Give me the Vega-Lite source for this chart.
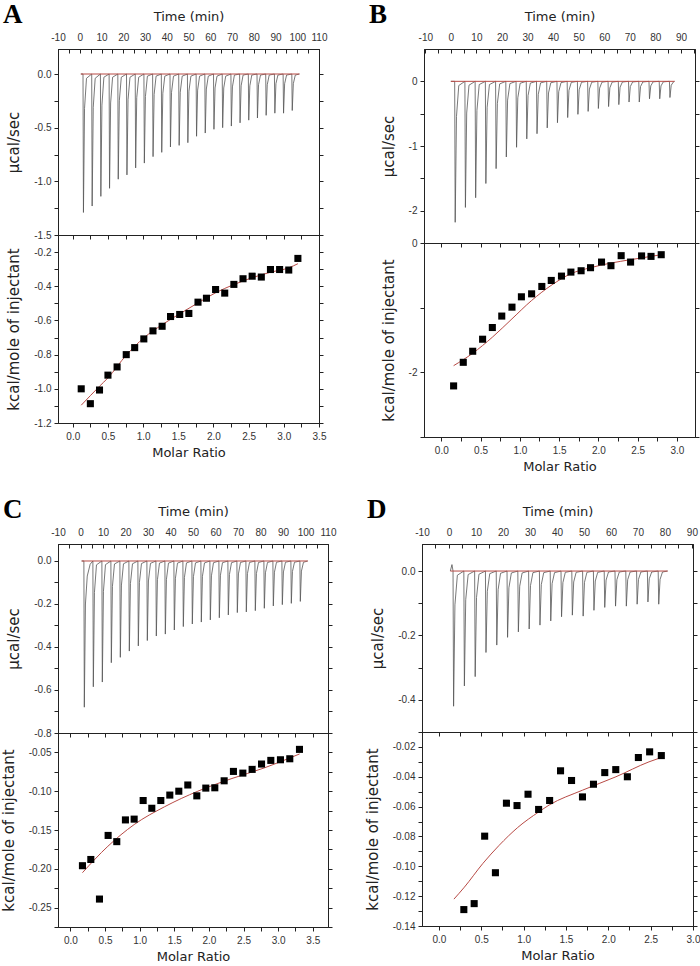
{
  "$schema": "https://vega.github.io/schema/vega-lite/v6.json",
  "background": "white",
  "padding": {"left": 0, "top": 0, "right": 0, "bottom": 0},
  "config": {
    "view": {"stroke": "#222", "strokeWidth": 1},
    "axis": {"grid": false, "domainColor": "#222", "tickColor": "#222", "labelFont": "Liberation Sans", "labelFontSize": 10, "labelColor": "#333", "titleFont": "DejaVu Sans", "titleFontWeight": "normal", "titleColor": "#222", "labelOverlap": false, "labelFlush": false, "tickSize": 4, "labelPadding": 3},
    "locale": {"number": {"decimal": ".", "thousands": ",", "grouping": [3], "currency": ["$", ""], "minus": "-"}}
  },
  "datasets": {
    "thA": [{"t":0.5,"p":0},
      {"t":1.5,"p":0},{"t":1.7,"p":-1.29},{"t":2.2,"p":-0.32},{"t":3.1,"p":-0.04},
      {"t":5.5,"p":0},{"t":5.7,"p":-1.23},{"t":6.2,"p":-0.31},{"t":7.1,"p":-0.04},
      {"t":9.5,"p":0},{"t":9.7,"p":-1.14},{"t":10.2,"p":-0.29},{"t":11.1,"p":-0.03},
      {"t":13.5,"p":0},{"t":13.7,"p":-1.065},{"t":14.2,"p":-0.27},{"t":15.1,"p":-0.03},
      {"t":17.5,"p":0},{"t":17.7,"p":-0.98},{"t":18.2,"p":-0.25},{"t":19.1,"p":-0.03},
      {"t":21.5,"p":0},{"t":21.7,"p":-0.94},{"t":22.2,"p":-0.24},{"t":23.1,"p":-0.03},
      {"t":25.5,"p":0},{"t":25.7,"p":-0.875},{"t":26.2,"p":-0.22},{"t":27.1,"p":-0.03},
      {"t":29.5,"p":0},{"t":29.7,"p":-0.83},{"t":30.2,"p":-0.21},{"t":31.1,"p":-0.02},
      {"t":33.5,"p":0},{"t":33.7,"p":-0.77},{"t":34.2,"p":-0.19},{"t":35.1,"p":-0.02},
      {"t":37.5,"p":0},{"t":37.7,"p":-0.73},{"t":38.2,"p":-0.18},{"t":39.1,"p":-0.02},
      {"t":41.5,"p":0},{"t":41.7,"p":-0.68},{"t":42.2,"p":-0.17},{"t":43.1,"p":-0.02},
      {"t":45.5,"p":0},{"t":45.7,"p":-0.665},{"t":46.2,"p":-0.17},{"t":47.1,"p":-0.02},
      {"t":49.5,"p":0},{"t":49.7,"p":-0.64},{"t":50.2,"p":-0.16},{"t":51.1,"p":-0.02},
      {"t":53.5,"p":0},{"t":53.7,"p":-0.58},{"t":54.2,"p":-0.15},{"t":55.1,"p":-0.02},
      {"t":57.5,"p":0},{"t":57.7,"p":-0.55},{"t":58.2,"p":-0.14},{"t":59.1,"p":-0.02},
      {"t":61.5,"p":0},{"t":61.7,"p":-0.515},{"t":62.2,"p":-0.13},{"t":63.1,"p":-0.02},
      {"t":65.5,"p":0},{"t":65.7,"p":-0.5},{"t":66.2,"p":-0.13},{"t":67.1,"p":-0.02},
      {"t":69.5,"p":0},{"t":69.7,"p":-0.485},{"t":70.2,"p":-0.12},{"t":71.1,"p":-0.01},
      {"t":73.5,"p":0},{"t":73.7,"p":-0.455},{"t":74.2,"p":-0.11},{"t":75.1,"p":-0.01},
      {"t":77.5,"p":0},{"t":77.7,"p":-0.43},{"t":78.2,"p":-0.11},{"t":79.1,"p":-0.01},
      {"t":81.5,"p":0},{"t":81.7,"p":-0.41},{"t":82.2,"p":-0.1},{"t":83.1,"p":-0.01},
      {"t":85.5,"p":0},{"t":85.7,"p":-0.385},{"t":86.2,"p":-0.1},{"t":87.1,"p":-0.01},
      {"t":89.5,"p":0},{"t":89.7,"p":-0.365},{"t":90.2,"p":-0.09},{"t":91.1,"p":-0.01},
      {"t":93.5,"p":0},{"t":93.7,"p":-0.365},{"t":94.2,"p":-0.09},{"t":95.1,"p":-0.01},
      {"t":97.5,"p":0},{"t":97.7,"p":-0.34},{"t":98.2,"p":-0.09},{"t":99.1,"p":-0.01},
      {"t":101,"p":0}],
    "thB": [{"t":0,"p":0},
      {"t":1.5,"p":0},{"t":1.7,"p":-2.18},{"t":2.2,"p":-0.545},{"t":3.1,"p":-0.065},
      {"t":5.5,"p":0},{"t":5.7,"p":-1.95},{"t":6.2,"p":-0.49},{"t":7.1,"p":-0.06},
      {"t":9.5,"p":0},{"t":9.7,"p":-1.8},{"t":10.2,"p":-0.45},{"t":11.1,"p":-0.05},
      {"t":13.5,"p":0},{"t":13.7,"p":-1.58},{"t":14.2,"p":-0.4},{"t":15.1,"p":-0.05},
      {"t":17.5,"p":0},{"t":17.7,"p":-1.35},{"t":18.2,"p":-0.34},{"t":19.1,"p":-0.04},
      {"t":21.5,"p":0},{"t":21.7,"p":-1.17},{"t":22.2,"p":-0.29},{"t":23.1,"p":-0.035},
      {"t":25.5,"p":0},{"t":25.7,"p":-1.02},{"t":26.2,"p":-0.255},{"t":27.1,"p":-0.03},
      {"t":29.5,"p":0},{"t":29.7,"p":-0.89},{"t":30.2,"p":-0.22},{"t":31.1,"p":-0.027},
      {"t":33.5,"p":0},{"t":33.7,"p":-0.81},{"t":34.2,"p":-0.2},{"t":35.1,"p":-0.024},
      {"t":37.5,"p":0},{"t":37.7,"p":-0.72},{"t":38.2,"p":-0.18},{"t":39.1,"p":-0.022},
      {"t":41.5,"p":0},{"t":41.7,"p":-0.64},{"t":42.2,"p":-0.16},{"t":43.1,"p":-0.02},
      {"t":45.5,"p":0},{"t":45.7,"p":-0.56},{"t":46.2,"p":-0.14},{"t":47.1,"p":-0.017},
      {"t":49.5,"p":0},{"t":49.7,"p":-0.51},{"t":50.2,"p":-0.13},{"t":51.1,"p":-0.015},
      {"t":53.5,"p":0},{"t":53.7,"p":-0.465},{"t":54.2,"p":-0.12},{"t":55.1,"p":-0.014},
      {"t":57.5,"p":0},{"t":57.7,"p":-0.42},{"t":58.2,"p":-0.105},{"t":59.1,"p":-0.013},
      {"t":61.5,"p":0},{"t":61.7,"p":-0.39},{"t":62.2,"p":-0.1},{"t":63.1,"p":-0.012},
      {"t":65.5,"p":0},{"t":65.7,"p":-0.36},{"t":66.2,"p":-0.09},{"t":67.1,"p":-0.011},
      {"t":69.5,"p":0},{"t":69.7,"p":-0.32},{"t":70.2,"p":-0.08},{"t":71.1,"p":-0.01},
      {"t":73.5,"p":0},{"t":73.7,"p":-0.32},{"t":74.2,"p":-0.08},{"t":75.1,"p":-0.01},
      {"t":77.5,"p":0},{"t":77.7,"p":-0.27},{"t":78.2,"p":-0.07},{"t":79.1,"p":-0.008},
      {"t":81.5,"p":0},{"t":81.7,"p":-0.27},{"t":82.2,"p":-0.07},{"t":83.1,"p":-0.008},
      {"t":85.5,"p":0},{"t":85.7,"p":-0.25},{"t":86.2,"p":-0.06},{"t":87.1,"p":-0.008},
      {"t":87.5,"p":0}],
    "thC": [{"t":0.5,"p":0},
      {"t":1.5,"p":0},{"t":1.7,"p":-0.68},{"t":2.2,"p":-0.2},{"t":3.0,"p":-0.07},{"t":4.3,"p":-0.015},
      {"t":5.5,"p":0},{"t":5.7,"p":-0.585},{"t":6.2,"p":-0.146},{"t":7.1,"p":-0.018},
      {"t":9.5,"p":0},{"t":9.7,"p":-0.563},{"t":10.2,"p":-0.141},{"t":11.1,"p":-0.017},
      {"t":13.5,"p":0},{"t":13.7,"p":-0.473},{"t":14.2,"p":-0.118},{"t":15.1,"p":-0.014},
      {"t":17.5,"p":0},{"t":17.7,"p":-0.448},{"t":18.2,"p":-0.112},{"t":19.1,"p":-0.013},
      {"t":21.5,"p":0},{"t":21.7,"p":-0.419},{"t":22.2,"p":-0.105},{"t":23.1,"p":-0.013},
      {"t":25.5,"p":0},{"t":25.7,"p":-0.395},{"t":26.2,"p":-0.099},{"t":27.1,"p":-0.012},
      {"t":29.5,"p":0},{"t":29.7,"p":-0.37},{"t":30.2,"p":-0.093},{"t":31.1,"p":-0.011},
      {"t":33.5,"p":0},{"t":33.7,"p":-0.349},{"t":34.2,"p":-0.087},{"t":35.1,"p":-0.01},
      {"t":37.5,"p":0},{"t":37.7,"p":-0.34},{"t":38.2,"p":-0.085},{"t":39.1,"p":-0.01},
      {"t":41.5,"p":0},{"t":41.7,"p":-0.321},{"t":42.2,"p":-0.08},{"t":43.1,"p":-0.01},
      {"t":45.5,"p":0},{"t":45.7,"p":-0.305},{"t":46.2,"p":-0.076},{"t":47.1,"p":-0.009},
      {"t":49.5,"p":0},{"t":49.7,"p":-0.293},{"t":50.2,"p":-0.073},{"t":51.1,"p":-0.009},
      {"t":53.5,"p":0},{"t":53.7,"p":-0.284},{"t":54.2,"p":-0.071},{"t":55.1,"p":-0.009},
      {"t":57.5,"p":0},{"t":57.7,"p":-0.274},{"t":58.2,"p":-0.069},{"t":59.1,"p":-0.008},
      {"t":61.5,"p":0},{"t":61.7,"p":-0.264},{"t":62.2,"p":-0.066},{"t":63.1,"p":-0.008},
      {"t":65.5,"p":0},{"t":65.7,"p":-0.251},{"t":66.2,"p":-0.063},{"t":67.1,"p":-0.008},
      {"t":69.5,"p":0},{"t":69.7,"p":-0.24},{"t":70.2,"p":-0.06},{"t":71.1,"p":-0.007},
      {"t":73.5,"p":0},{"t":73.7,"p":-0.237},{"t":74.2,"p":-0.059},{"t":75.1,"p":-0.007},
      {"t":77.5,"p":0},{"t":77.7,"p":-0.231},{"t":78.2,"p":-0.058},{"t":79.1,"p":-0.007},
      {"t":81.5,"p":0},{"t":81.7,"p":-0.22},{"t":82.2,"p":-0.055},{"t":83.1,"p":-0.007},
      {"t":85.5,"p":0},{"t":85.7,"p":-0.209},{"t":86.2,"p":-0.052},{"t":87.1,"p":-0.006},
      {"t":89.5,"p":0},{"t":89.7,"p":-0.203},{"t":90.2,"p":-0.051},{"t":91.1,"p":-0.006},
      {"t":93.5,"p":0},{"t":93.7,"p":-0.197},{"t":94.2,"p":-0.049},{"t":95.1,"p":-0.006},
      {"t":97.5,"p":0},{"t":97.7,"p":-0.188},{"t":98.2,"p":-0.047},{"t":99.1,"p":-0.006},
      {"t":101,"p":0}],
    "thD": [{"t":0.5,"p":0},{"t":1.1,"p":0.02},
      {"t":1.5,"p":0},{"t":1.7,"p":-0.42},{"t":2.2,"p":-0.105},{"t":3.1,"p":-0.013},
      {"t":5.5,"p":0},{"t":5.7,"p":-0.357},{"t":6.2,"p":-0.089},{"t":7.1,"p":-0.011},
      {"t":9.5,"p":0},{"t":9.7,"p":-0.328},{"t":10.2,"p":-0.082},{"t":11.1,"p":-0.01},
      {"t":13.5,"p":0},{"t":13.7,"p":-0.253},{"t":14.2,"p":-0.063},{"t":15.1,"p":-0.008},
      {"t":17.5,"p":0},{"t":17.7,"p":-0.23},{"t":18.2,"p":-0.058},{"t":19.1,"p":-0.007},
      {"t":21.5,"p":0},{"t":21.7,"p":-0.206},{"t":22.2,"p":-0.052},{"t":23.1,"p":-0.006},
      {"t":25.5,"p":0},{"t":25.7,"p":-0.189},{"t":26.2,"p":-0.047},{"t":27.1,"p":-0.006},
      {"t":29.5,"p":0},{"t":29.7,"p":-0.18},{"t":30.2,"p":-0.045},{"t":31.1,"p":-0.005},
      {"t":33.5,"p":0},{"t":33.7,"p":-0.168},{"t":34.2,"p":-0.042},{"t":35.1,"p":-0.005},
      {"t":37.5,"p":0},{"t":37.7,"p":-0.155},{"t":38.2,"p":-0.039},{"t":39.1,"p":-0.005},
      {"t":41.5,"p":0},{"t":41.7,"p":-0.142},{"t":42.2,"p":-0.036},{"t":43.1,"p":-0.004},
      {"t":45.5,"p":0},{"t":45.7,"p":-0.137},{"t":46.2,"p":-0.034},{"t":47.1,"p":-0.004},
      {"t":49.5,"p":0},{"t":49.7,"p":-0.14},{"t":50.2,"p":-0.035},{"t":51.1,"p":-0.004},
      {"t":53.5,"p":0},{"t":53.7,"p":-0.122},{"t":54.2,"p":-0.031},{"t":55.1,"p":-0.004},
      {"t":57.5,"p":0},{"t":57.7,"p":-0.113},{"t":58.2,"p":-0.028},{"t":59.1,"p":-0.003},
      {"t":61.5,"p":0},{"t":61.7,"p":-0.109},{"t":62.2,"p":-0.027},{"t":63.1,"p":-0.003},
      {"t":65.5,"p":0},{"t":65.7,"p":-0.109},{"t":66.2,"p":-0.027},{"t":67.1,"p":-0.003},
      {"t":69.5,"p":0},{"t":69.7,"p":-0.103},{"t":70.2,"p":-0.026},{"t":71.1,"p":-0.003},
      {"t":73.5,"p":0},{"t":73.7,"p":-0.096},{"t":74.2,"p":-0.024},{"t":75.1,"p":-0.003},
      {"t":77.5,"p":0},{"t":77.7,"p":-0.103},{"t":78.2,"p":-0.026},{"t":79.1,"p":-0.003},
      {"t":81,"p":0}],
    "baseA": [{"t":0.5,"p":0},{"t":101,"p":0}],
    "baseB": [{"t":0,"p":0},{"t":87.5,"p":0}],
    "baseC": [{"t":0.5,"p":0},{"t":101,"p":0}],
    "baseD": [{"t":0.5,"p":0},{"t":81,"p":0}],
    "ptA": [{"x":0.12,"y":-1.0},{"x":0.25,"y":-1.087},{"x":0.38,"y":-1.007},{"x":0.5,"y":-0.92},{"x":0.63,"y":-0.872},{"x":0.76,"y":-0.8},{"x":0.88,"y":-0.759},{"x":1.01,"y":-0.708},{"x":1.14,"y":-0.661},{"x":1.27,"y":-0.634},{"x":1.39,"y":-0.577},{"x":1.52,"y":-0.565},{"x":1.65,"y":-0.559},{"x":1.78,"y":-0.493},{"x":1.9,"y":-0.47},{"x":2.03,"y":-0.419},{"x":2.16,"y":-0.44},{"x":2.29,"y":-0.389},{"x":2.42,"y":-0.356},{"x":2.55,"y":-0.341},{"x":2.68,"y":-0.346},{"x":2.81,"y":-0.302},{"x":2.94,"y":-0.302},{"x":3.07,"y":-0.305},{"x":3.2,"y":-0.237}],
    "ptB": [{"x":0.157,"y":-2.21},{"x":0.28,"y":-1.845},{"x":0.4,"y":-1.674},{"x":0.526,"y":-1.488},{"x":0.65,"y":-1.307},{"x":0.77,"y":-1.13},{"x":0.9,"y":-0.992},{"x":1.02,"y":-0.832},{"x":1.15,"y":-0.786},{"x":1.28,"y":-0.672},{"x":1.4,"y":-0.579},{"x":1.53,"y":-0.512},{"x":1.65,"y":-0.45},{"x":1.78,"y":-0.429},{"x":1.9,"y":-0.382},{"x":2.04,"y":-0.295},{"x":2.16,"y":-0.351},{"x":2.29,"y":-0.196},{"x":2.41,"y":-0.295},{"x":2.55,"y":-0.2},{"x":2.67,"y":-0.207},{"x":2.8,"y":-0.181}],
    "ptC": [{"x":0.173,"y":-0.196},{"x":0.294,"y":-0.188},{"x":0.419,"y":-0.239},{"x":0.544,"y":-0.157},{"x":0.669,"y":-0.165},{"x":0.794,"y":-0.137},{"x":0.92,"y":-0.136},{"x":1.05,"y":-0.112},{"x":1.175,"y":-0.122},{"x":1.305,"y":-0.112},{"x":1.435,"y":-0.105},{"x":1.565,"y":-0.1},{"x":1.695,"y":-0.092},{"x":1.825,"y":-0.106},{"x":1.955,"y":-0.096},{"x":2.085,"y":-0.0956},{"x":2.22,"y":-0.0866},{"x":2.354,"y":-0.0745},{"x":2.49,"y":-0.0767},{"x":2.624,"y":-0.0719},{"x":2.76,"y":-0.065},{"x":2.894,"y":-0.0603},{"x":3.033,"y":-0.0595},{"x":3.168,"y":-0.0582},{"x":3.308,"y":-0.0461}],
    "ptD": [{"x":0.294,"y":-0.129},{"x":0.416,"y":-0.125},{"x":0.54,"y":-0.0798},{"x":0.667,"y":-0.1043},{"x":0.797,"y":-0.0577},{"x":0.922,"y":-0.0593},{"x":1.052,"y":-0.0517},{"x":1.177,"y":-0.0619},{"x":1.307,"y":-0.0559},{"x":1.436,"y":-0.036},{"x":1.566,"y":-0.0425},{"x":1.695,"y":-0.0535},{"x":1.825,"y":-0.045},{"x":1.958,"y":-0.0372},{"x":2.088,"y":-0.0352},{"x":2.225,"y":-0.04},{"x":2.355,"y":-0.0271},{"x":2.488,"y":-0.0233},{"x":2.626,"y":-0.0258}],
    "fitA": [{"x":0.12,"y":-1.096},{"x":0.25,"y":-1.04},{"x":0.38,"y":-0.985},{"x":0.5,"y":-0.936},{"x":0.76,"y":-0.803},{"x":1.01,"y":-0.702},{"x":1.27,"y":-0.625},{"x":1.52,"y":-0.561},{"x":1.78,"y":-0.497},{"x":2.03,"y":-0.438},{"x":2.29,"y":-0.39},{"x":2.55,"y":-0.35},{"x":2.81,"y":-0.318},{"x":3.07,"y":-0.292},{"x":3.2,"y":-0.268}],
    "fitB": [{"x":0.157,"y":-1.897},{"x":0.4,"y":-1.705},{"x":0.65,"y":-1.457},{"x":0.9,"y":-1.173},{"x":1.15,"y":-0.889},{"x":1.41,"y":-0.646},{"x":1.65,"y":-0.475},{"x":1.9,"y":-0.382},{"x":2.16,"y":-0.31},{"x":2.41,"y":-0.258},{"x":2.8,"y":-0.181}],
    "fitC": [{"x":0.173,"y":-0.205},{"x":0.54,"y":-0.171},{"x":0.92,"y":-0.143},{"x":1.36,"y":-0.12},{"x":1.84,"y":-0.1},{"x":2.32,"y":-0.084},{"x":2.8,"y":-0.07},{"x":3.31,"y":-0.052}],
    "fitD": [{"x":0.177,"y":-0.122},{"x":0.3,"y":-0.114},{"x":0.52,"y":-0.098},{"x":0.71,"y":-0.086},{"x":0.93,"y":-0.074},{"x":1.18,"y":-0.0635},{"x":1.3,"y":-0.059},{"x":1.695,"y":-0.049},{"x":2.09,"y":-0.04},{"x":2.48,"y":-0.03},{"x":2.63,"y":-0.027}]
  },
  "spacing": 21,
  "vconcat": [
    {"hconcat": [
      {"title": {"text": "A", "anchor": "start", "frame": "group", "dx": -55, "offset": -19, "font": "Liberation Serif", "fontSize": 27, "fontWeight": "bold", "color": "#000"},
       "spacing": 0, "bounds": "flush",
       "vconcat": [
        {"width": 261, "height": 186,
         "resolve": {"axis": {"x": "independent", "y": "independent"}},
         "layer": [
          {"data": {"name": "thA"}, "mark": {"type": "line", "color": "#555", "strokeWidth": 0.8},
           "encoding": {
            "x": {"field": "t", "type": "quantitative", "scale": {"domain": [-10, 110], "nice": false, "zero": false},
                  "axis": {"orient": "top", "title": "Time (min)", "titleFontSize": 13, "titlePadding": 9, "values": [-10,-5,0,5,10,15,20,25,30,35,40,45,50,55,60,65,70,75,80,85,90,95,100,105,110], "format": "d", "labelExpr": "datum.value % 10 == 0 ? datum.label : ''", "tickSize": -4, "labelPadding": 11}},
            "y": {"field": "p", "type": "quantitative", "scale": {"domain": [-1.5, 0.233], "nice": false, "zero": false},
                  "axis": {"orient": "left", "title": "µcal/sec", "titleFontSize": 15, "titlePadding": 12, "values": [0,-0.25,-0.5,-0.75,-1,-1.25,-1.5], "format": ".1f", "labelExpr": "abs(datum.value*2-round(datum.value*2)) < 0.001 ? datum.label : ''"}}}},
          {"data": {"name": "baseA"}, "mark": {"type": "line", "color": "#b84a45", "strokeWidth": 1},
           "encoding": {
            "x": {"field": "t", "type": "quantitative", "scale": {"domain": [-10, 110], "nice": false, "zero": false}, "axis": null},
            "y": {"field": "p", "type": "quantitative", "scale": {"domain": [-1.5, 0.233], "nice": false, "zero": false},
                  "axis": {"orient": "right", "title": null, "labels": false, "values": [0,-0.25,-0.5,-0.75,-1,-1.25,-1.5]}}}}
         ]},
        {"width": 261, "height": 188,
         "resolve": {"axis": {"x": "independent", "y": "independent"}},
         "layer": [
          {"data": {"name": "fitA"}, "mark": {"type": "line", "color": "#b84a45", "strokeWidth": 1, "interpolate": "monotone"},
           "encoding": {
            "x": {"field": "x", "type": "quantitative", "scale": {"domain": [-0.21, 3.5], "nice": false, "zero": false},
                  "axis": {"orient": "top", "title": null, "labels": false, "tickSize": -4, "values": [0,0.25,0.5,0.75,1,1.25,1.5,1.75,2,2.25,2.5,2.75,3,3.25,3.5]}},
            "y": {"field": "y", "type": "quantitative", "scale": {"domain": [-1.2, -0.1], "nice": false, "zero": false},
                  "axis": {"orient": "right", "title": null, "labels": false, "values": [-0.2,-0.3,-0.4,-0.5,-0.6,-0.7,-0.8,-0.9,-1,-1.1,-1.2]}}}},
          {"data": {"name": "ptA"}, "mark": {"type": "square", "color": "#000", "size": 50, "opacity": 1},
           "encoding": {
            "x": {"field": "x", "type": "quantitative", "scale": {"domain": [-0.21, 3.5], "nice": false, "zero": false},
                  "axis": {"orient": "bottom", "title": "Molar Ratio", "titleFontSize": 13, "titlePadding": 5, "labelPadding": 4, "values": [0,0.25,0.5,0.75,1,1.25,1.5,1.75,2,2.25,2.5,2.75,3,3.25,3.5], "format": ".1f", "labelExpr": "abs(datum.value*2-round(datum.value*2)) < 0.001 ? datum.label : ''"}},
            "y": {"field": "y", "type": "quantitative", "scale": {"domain": [-1.2, -0.1], "nice": false, "zero": false},
                  "axis": {"orient": "left", "title": "kcal/mole of injectant", "titleFontSize": 15, "titlePadding": 12, "values": [-0.2,-0.3,-0.4,-0.5,-0.6,-0.7,-0.8,-0.9,-1,-1.1,-1.2], "format": ".1f", "labelExpr": "abs(datum.value*5-round(datum.value*5)) < 0.001 ? datum.label : ''"}}}}
         ]}
       ]},
      {"title": {"text": "B", "anchor": "start", "frame": "group", "dx": -55, "offset": -19, "font": "Liberation Serif", "fontSize": 27, "fontWeight": "bold", "color": "#000"},
       "spacing": 0, "bounds": "flush",
       "vconcat": [
        {"width": 271, "height": 194,
         "resolve": {"axis": {"x": "independent", "y": "independent"}},
         "layer": [
          {"data": {"name": "thB"}, "mark": {"type": "line", "color": "#555", "strokeWidth": 0.8},
           "encoding": {
            "x": {"field": "t", "type": "quantitative", "scale": {"domain": [-10.5, 95.5], "nice": false, "zero": false},
                  "axis": {"orient": "top", "title": "Time (min)", "titleFontSize": 13, "titlePadding": 9, "values": [-10,-5,0,5,10,15,20,25,30,35,40,45,50,55,60,65,70,75,80,85,90,95], "format": "d", "labelExpr": "datum.value % 10 == 0 ? datum.label : ''", "tickSize": -4, "labelPadding": 11}},
            "y": {"field": "p", "type": "quantitative", "scale": {"domain": [-2.5, 0.5], "nice": false, "zero": false},
                  "axis": {"orient": "left", "title": "µcal/sec", "titleFontSize": 15, "titlePadding": 12, "values": [0,-0.5,-1,-1.5,-2], "labelExpr": "datum.value % 1 == 0 ? format(datum.value, 'd') : ''"}}}},
          {"data": {"name": "baseB"}, "mark": {"type": "line", "color": "#b84a45", "strokeWidth": 1},
           "encoding": {
            "x": {"field": "t", "type": "quantitative", "scale": {"domain": [-10.5, 95.5], "nice": false, "zero": false}, "axis": null},
            "y": {"field": "p", "type": "quantitative", "scale": {"domain": [-2.5, 0.5], "nice": false, "zero": false},
                  "axis": {"orient": "right", "title": null, "labels": false, "values": [0,-0.5,-1,-1.5,-2]}}}}
         ]},
        {"width": 271, "height": 194,
         "resolve": {"axis": {"x": "independent", "y": "independent"}},
         "layer": [
          {"data": {"name": "fitB"}, "mark": {"type": "line", "color": "#b84a45", "strokeWidth": 1, "interpolate": "monotone"},
           "encoding": {
            "x": {"field": "x", "type": "quantitative", "scale": {"domain": [-0.22, 3.23], "nice": false, "zero": false},
                  "axis": {"orient": "top", "title": null, "labels": false, "tickSize": -4, "values": [0,0.25,0.5,0.75,1,1.25,1.5,1.75,2,2.25,2.5,2.75,3]}},
            "y": {"field": "y", "type": "quantitative", "scale": {"domain": [-3, 0], "nice": false, "zero": false},
                  "axis": {"orient": "right", "title": null, "labels": false, "values": [0,-1,-2,-3]}}}},
          {"data": {"name": "ptB"}, "mark": {"type": "square", "color": "#000", "size": 50, "opacity": 1},
           "encoding": {
            "x": {"field": "x", "type": "quantitative", "scale": {"domain": [-0.22, 3.23], "nice": false, "zero": false},
                  "axis": {"orient": "bottom", "title": "Molar Ratio", "titleFontSize": 13, "titlePadding": 5, "labelPadding": 4, "values": [0,0.25,0.5,0.75,1,1.25,1.5,1.75,2,2.25,2.5,2.75,3], "format": ".1f", "labelExpr": "abs(datum.value*2-round(datum.value*2)) < 0.001 ? datum.label : ''"}},
            "y": {"field": "y", "type": "quantitative", "scale": {"domain": [-3, 0], "nice": false, "zero": false},
                  "axis": {"orient": "left", "title": "kcal/mole of injectant", "titleFontSize": 15, "titlePadding": 12, "values": [0,-1,-2,-3], "labelExpr": "datum.value % 2 == 0 ? format(datum.value, 'd') : ''"}}}}
         ]}
       ]}
    ], "spacing": 41},
    {"hconcat": [
      {"title": {"text": "C", "anchor": "start", "frame": "group", "dx": -55, "offset": -19, "font": "Liberation Serif", "fontSize": 27, "fontWeight": "bold", "color": "#000"},
       "spacing": 0, "bounds": "flush",
       "vconcat": [
        {"width": 270, "height": 189,
         "resolve": {"axis": {"x": "independent", "y": "independent"}},
         "layer": [
          {"data": {"name": "thC"}, "mark": {"type": "line", "color": "#555", "strokeWidth": 0.8},
           "encoding": {
            "x": {"field": "t", "type": "quantitative", "scale": {"domain": [-10, 110], "nice": false, "zero": false},
                  "axis": {"orient": "top", "title": "Time (min)", "titleFontSize": 13, "titlePadding": 9, "values": [-10,-5,0,5,10,15,20,25,30,35,40,45,50,55,60,65,70,75,80,85,90,95,100,105,110], "format": "d", "labelExpr": "datum.value % 10 == 0 ? datum.label : ''", "tickSize": -4, "labelPadding": 11}},
            "y": {"field": "p", "type": "quantitative", "scale": {"domain": [-0.8, 0.079], "nice": false, "zero": false},
                  "axis": {"orient": "left", "title": "µcal/sec", "titleFontSize": 15, "titlePadding": 12, "values": [0,-0.1,-0.2,-0.3,-0.4,-0.5,-0.6,-0.7,-0.8], "format": ".1f", "labelExpr": "abs(datum.value*5-round(datum.value*5)) < 0.001 ? datum.label : ''"}}}},
          {"data": {"name": "baseC"}, "mark": {"type": "line", "color": "#b84a45", "strokeWidth": 1},
           "encoding": {
            "x": {"field": "t", "type": "quantitative", "scale": {"domain": [-10, 110], "nice": false, "zero": false}, "axis": null},
            "y": {"field": "p", "type": "quantitative", "scale": {"domain": [-0.8, 0.079], "nice": false, "zero": false},
                  "axis": {"orient": "right", "title": null, "labels": false, "values": [0,-0.1,-0.2,-0.3,-0.4,-0.5,-0.6,-0.7,-0.8]}}}}
         ]},
        {"width": 270, "height": 194,
         "resolve": {"axis": {"x": "independent", "y": "independent"}},
         "layer": [
          {"data": {"name": "fitC"}, "mark": {"type": "line", "color": "#b84a45", "strokeWidth": 1, "interpolate": "monotone"},
           "encoding": {
            "x": {"field": "x", "type": "quantitative", "scale": {"domain": [-0.18, 3.72], "nice": false, "zero": false},
                  "axis": {"orient": "top", "title": null, "labels": false, "tickSize": -4, "values": [0,0.25,0.5,0.75,1,1.25,1.5,1.75,2,2.25,2.5,2.75,3,3.25,3.5]}},
            "y": {"field": "y", "type": "quantitative", "scale": {"domain": [-0.275, -0.025], "nice": false, "zero": false},
                  "axis": {"orient": "right", "title": null, "labels": false, "values": [-0.05,-0.075,-0.1,-0.125,-0.15,-0.175,-0.2,-0.225,-0.25,-0.275]}}}},
          {"data": {"name": "ptC"}, "mark": {"type": "square", "color": "#000", "size": 50, "opacity": 1},
           "encoding": {
            "x": {"field": "x", "type": "quantitative", "scale": {"domain": [-0.18, 3.72], "nice": false, "zero": false},
                  "axis": {"orient": "bottom", "title": "Molar Ratio", "titleFontSize": 13, "titlePadding": 5, "labelPadding": 4, "values": [0,0.25,0.5,0.75,1,1.25,1.5,1.75,2,2.25,2.5,2.75,3,3.25,3.5], "format": ".1f", "labelExpr": "abs(datum.value*2-round(datum.value*2)) < 0.001 ? datum.label : ''"}},
            "y": {"field": "y", "type": "quantitative", "scale": {"domain": [-0.275, -0.025], "nice": false, "zero": false},
                  "axis": {"orient": "left", "title": "kcal/mole of injectant", "titleFontSize": 15, "titlePadding": 12, "values": [-0.05,-0.075,-0.1,-0.125,-0.15,-0.175,-0.2,-0.225,-0.25,-0.275], "format": ".2f", "labelExpr": "abs(datum.value*20-round(datum.value*20)) < 0.001 ? datum.label : ''"}}}}
         ]}
       ]},
      {"title": {"text": "D", "anchor": "start", "frame": "group", "dx": -55, "offset": -19, "font": "Liberation Serif", "fontSize": 27, "fontWeight": "bold", "color": "#000"},
       "spacing": 0, "bounds": "flush",
       "vconcat": [
        {"width": 271, "height": 188,
         "resolve": {"axis": {"x": "independent", "y": "independent"}},
         "layer": [
          {"data": {"name": "thD"}, "mark": {"type": "line", "color": "#555", "strokeWidth": 0.8},
           "encoding": {
            "x": {"field": "t", "type": "quantitative", "scale": {"domain": [-10, 90.4], "nice": false, "zero": false},
                  "axis": {"orient": "top", "title": "Time (min)", "titleFontSize": 13, "titlePadding": 9, "values": [-10,-5,0,5,10,15,20,25,30,35,40,45,50,55,60,65,70,75,80,85,90], "format": "d", "labelExpr": "datum.value % 10 == 0 ? datum.label : ''", "tickSize": -4, "labelPadding": 11}},
            "y": {"field": "p", "type": "quantitative", "scale": {"domain": [-0.5, 0.084], "nice": false, "zero": false},
                  "axis": {"orient": "left", "title": "µcal/sec", "titleFontSize": 15, "titlePadding": 12, "values": [0,-0.1,-0.2,-0.3,-0.4,-0.5], "format": ".1f", "labelExpr": "abs(datum.value*5-round(datum.value*5)) < 0.001 ? datum.label : ''"}}}},
          {"data": {"name": "baseD"}, "mark": {"type": "line", "color": "#b84a45", "strokeWidth": 1},
           "encoding": {
            "x": {"field": "t", "type": "quantitative", "scale": {"domain": [-10, 90.4], "nice": false, "zero": false}, "axis": null},
            "y": {"field": "p", "type": "quantitative", "scale": {"domain": [-0.5, 0.084], "nice": false, "zero": false},
                  "axis": {"orient": "right", "title": null, "labels": false, "values": [0,-0.1,-0.2,-0.3,-0.4,-0.5]}}}}
         ]},
        {"width": 271, "height": 194,
         "resolve": {"axis": {"x": "independent", "y": "independent"}},
         "layer": [
          {"data": {"name": "fitD"}, "mark": {"type": "line", "color": "#b84a45", "strokeWidth": 1, "interpolate": "monotone"},
           "encoding": {
            "x": {"field": "x", "type": "quantitative", "scale": {"domain": [-0.2, 3.0], "nice": false, "zero": false},
                  "axis": {"orient": "top", "title": null, "labels": false, "tickSize": -4, "values": [0,0.25,0.5,0.75,1,1.25,1.5,1.75,2,2.25,2.5,2.75,3]}},
            "y": {"field": "y", "type": "quantitative", "scale": {"domain": [-0.14, -0.01], "nice": false, "zero": false},
                  "axis": {"orient": "right", "title": null, "labels": false, "values": [-0.02,-0.03,-0.04,-0.05,-0.06,-0.07,-0.08,-0.09,-0.1,-0.11,-0.12,-0.13,-0.14]}}}},
          {"data": {"name": "ptD"}, "mark": {"type": "square", "color": "#000", "size": 50, "opacity": 1},
           "encoding": {
            "x": {"field": "x", "type": "quantitative", "scale": {"domain": [-0.2, 3.0], "nice": false, "zero": false},
                  "axis": {"orient": "bottom", "title": "Molar Ratio", "titleFontSize": 13, "titlePadding": 5, "labelPadding": 4, "values": [0,0.25,0.5,0.75,1,1.25,1.5,1.75,2,2.25,2.5,2.75,3], "format": ".1f", "labelExpr": "abs(datum.value*2-round(datum.value*2)) < 0.001 ? datum.label : ''"}},
            "y": {"field": "y", "type": "quantitative", "scale": {"domain": [-0.14, -0.01], "nice": false, "zero": false},
                  "axis": {"orient": "left", "title": "kcal/mole of injectant", "titleFontSize": 15, "titlePadding": 12, "values": [-0.02,-0.03,-0.04,-0.05,-0.06,-0.07,-0.08,-0.09,-0.1,-0.11,-0.12,-0.13,-0.14], "format": ".2f", "labelExpr": "abs(datum.value*50-round(datum.value*50)) < 0.001 ? datum.label : ''"}}}}
         ]}
       ]}
    ], "spacing": 27}
  ]
}
